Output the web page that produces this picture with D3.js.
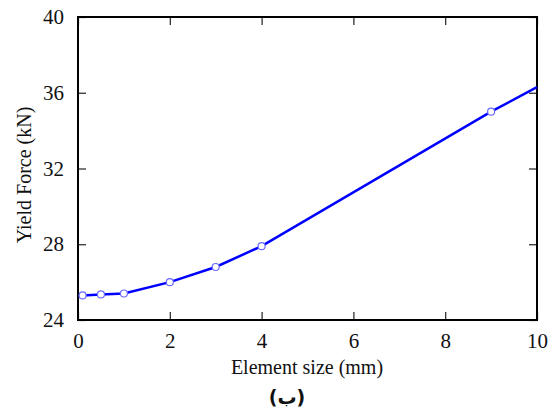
<!DOCTYPE html>
<html>
<head>
<meta charset="utf-8"/>
<script src="https://cdn.jsdelivr.net/npm/d3@7"></script>
<style>
  body { margin: 0; background: #fff; overflow: hidden; }
  svg { display: block; }
</style>
</head>
<body>
<svg id="chart" width="554" height="417"></svg>
<script>
// element size (mm) and yield force (kN)
const sizes = [0.1, 0.5, 1, 2, 3, 4, 9, 10];
const forces = [25.3, 25.35, 25.4, 26.0, 26.8, 27.9, 35.0, 36.3];
const markerShown = [true, true, true, true, true, true, true, false];
const xTicks = [0, 2, 4, 6, 8, 10];
const yTicks = [24, 28, 32, 36, 40];

const serif = '"Liberation Serif", "Times New Roman", serif';
const svg = d3.select('#chart');
const m = {left: 78, right: 537, top: 17, bottom: 320};

const x = d3.scaleLinear().domain([0, 10]).range([m.left, m.right]);
const y = d3.scaleLinear().domain([24, 40]).range([m.bottom, m.top]);

// ticks inside on all four sides
const tl = 8;
const axes = svg.append('g');
axes.append('g').attr('transform', `translate(0,${m.bottom})`)
  .call(d3.axisBottom(x).tickValues(xTicks).tickSize(-tl).tickPadding(13).tickFormat(d3.format('d')));
axes.append('g').attr('transform', `translate(0,${m.top})`)
  .call(d3.axisTop(x).tickValues(xTicks).tickSize(-tl).tickFormat(''));
axes.append('g').attr('transform', `translate(${m.left},0)`)
  .call(d3.axisLeft(y).tickValues(yTicks).tickSize(-tl).tickPadding(14).tickFormat(d3.format('d')));
axes.append('g').attr('transform', `translate(${m.right},0)`)
  .call(d3.axisRight(y).tickValues(yTicks).tickSize(-tl).tickFormat(''));
axes.selectAll('.domain').remove();
axes.selectAll('.tick line').attr('stroke', '#222').attr('stroke-width', 1.2);
axes.selectAll('.tick text')
  .attr('font-family', null).attr('font-size', null)
  .style('font-family', serif).style('font-size', '21px').attr('fill', '#111');
axes.selectAll('g').attr('font-family', null).attr('font-size', null);

svg.append('rect')
  .attr('x', m.left).attr('y', m.top)
  .attr('width', m.right - m.left).attr('height', m.bottom - m.top)
  .attr('fill', 'none').attr('stroke', '#000').attr('stroke-width', 2);

const pts = sizes.map((s, i) => [s, forces[i]]);
svg.append('path')
  .datum(pts)
  .attr('fill', 'none')
  .attr('stroke', '#0000ff')
  .attr('stroke-width', 2.5)
  .attr('d', d3.line().x(d => x(d[0])).y(d => y(d[1])));

svg.append('g').selectAll('circle')
  .data(pts.filter((d, i) => markerShown[i]))
  .enter().append('circle')
  .attr('cx', d => x(d[0])).attr('cy', d => y(d[1]))
  .attr('r', 3.5)
  .attr('fill', '#fff')
  .attr('stroke', '#6b6bff')
  .attr('stroke-width', 1.2);

svg.append('text')
  .attr('x', 307).attr('y', 374)
  .attr('text-anchor', 'middle').attr('fill', '#111')
  .style('font-family', serif).style('font-size', '20px')
  .text('Element size (mm)');

svg.append('text')
  .attr('transform', 'translate(31,175) rotate(-90)')
  .attr('text-anchor', 'middle').attr('fill', '#111')
  .style('font-family', serif).style('font-size', '20px')
  .text('Yield Force (kN)');

svg.append('text')
  .attr('x', 287).attr('y', 404)
  .attr('text-anchor', 'middle').attr('font-weight', 'bold')
  .attr('fill', '#111')
  .style('font-family', '"DejaVu Sans", sans-serif').style('font-size', '19px')
  .text('(ب)');
</script>
</body>
</html>
